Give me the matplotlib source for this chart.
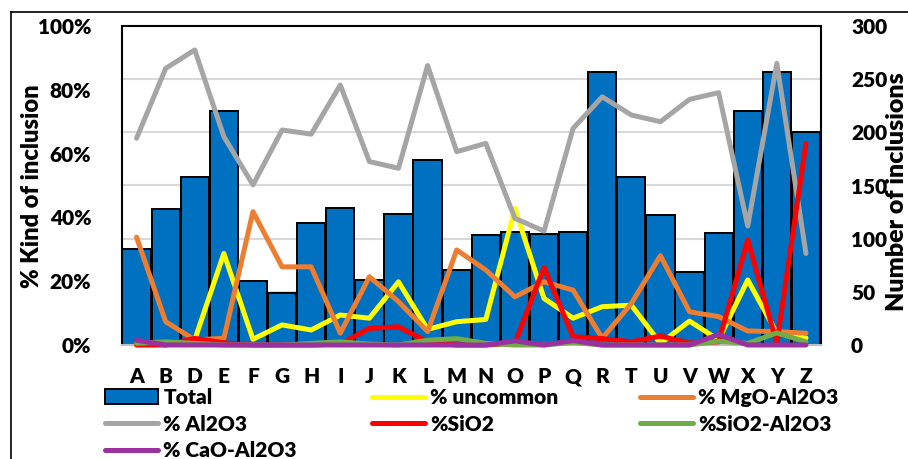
import matplotlib
matplotlib.use('Agg')
import matplotlib.pyplot as plt
from matplotlib.lines import Line2D
from matplotlib.patches import Patch
from matplotlib.ticker import FuncFormatter
import numpy as np

cats = ['A', 'B', 'D', 'E', 'F', 'G', 'H', 'I', 'J', 'K', 'L', 'M', 'N', 'O',
        'P', 'Q', 'R', 'T', 'U', 'V', 'W', 'X', 'Y', 'Z']
total = [90, 128, 158, 220, 60, 49, 115, 129, 61, 123, 174, 71, 103, 106,
         104, 106, 257, 158, 122, 69, 105, 220, 257, 200]
uncommon = [0, 0, 1.6, 28.7, 1.8, 6.3, 4.7, 9.4, 8.4, 19.8, 4.9, 7.3, 8.0, 42.8,
            14.6, 8.4, 12.0, 12.5, 0.5, 7.5, 1.6, 20.4, 3.7, 2.2]
mgo_al2o3 = [33.8, 7.3, 1.6, 2.1, 41.8, 24.5, 24.5, 3.7, 21.4, 13.6, 4.2, 29.8, 23.5,
             15.1, 19.8, 17.2, 2.1, 13.0, 28.0, 10.4, 8.9, 4.4, 4.2, 3.7]
al2o3 = [64.8, 86.7, 92.5, 65.3, 50.2, 67.4, 66.1, 81.5, 57.5, 55.4, 87.6, 60.6, 63.2,
         39.7, 35.7, 67.9, 77.8, 72.1, 70.0, 77.0, 79.1, 37.3, 88.3, 28.7]
sio2 = [0, 0, 2.1, 0.7, 0, 0, 0, 0.3, 5.2, 5.7, 1.0, 0, 0, 0.5, 24.3, 2.6, 2.0, 1.0,
        2.8, 0.6, 1.0, 32.9, 0.5, 63.2]
sio2_al2o3 = [0.5, 1.0, 0.5, 0, 0, 0, 0.5, 1.0, 0.3, 0, 1.5, 2.0, 0.5, 0, 0, 0.8, 0,
              0, 0, 0, 1.2, 0.5, 3.8, 1.0]
cao_al2o3 = [1.5, 0, 0, 0, 0, 0, 0, 0, 0, 0, 0, 0, 0, 1.3, 0, 1.4, 0, 0, 0, 0, 3.3,
             0, 0, 0]

plt.rcParams['font.family'] = ['Lato', 'DejaVu Sans']
plt.rcParams['font.weight'] = 'heavy'

W, H = 908, 459
fig = plt.figure(figsize=(W / 100, H / 100), dpi=100)


def fx(px):
    return px / W


def fy(py):
    return 1 - py / H


ax = fig.add_axes([fx(122), fy(345), fx(820.5) - fx(122), fy(26) - fy(345)])
x = np.arange(len(cats))
ax.bar(x, total, width=0.97, color='#0070C0', edgecolor='black', linewidth=1.4, zorder=2)
ax.set_ylim(0, 300)
ax.set_yticks(range(0, 301, 50))
ax.grid(axis='y', color='#D9D9D9', linewidth=1.5)
ax.set_axisbelow(True)
ax.set_xlim(-0.5, len(cats) - 0.5)
ax.set_xticks(x, cats)

ax2 = ax.twinx()
ax2.set_ylim(0, 100)
ax2.set_yticks(range(0, 101, 20))
ax2.yaxis.set_major_formatter(FuncFormatter(lambda v, p: f'{int(v)}%'))

ax.yaxis.tick_right()
ax2.yaxis.tick_left()
ax.tick_params(length=0, labelsize=15)
ax.tick_params(axis='x', pad=16)
ax.tick_params(axis='y', pad=22)
ax2.tick_params(length=0, labelsize=15, pad=22)

series = [
    (uncommon, '#FFFF00', '% uncommon'),
    (mgo_al2o3, '#ED7D31', '% MgO-Al2O3'),
    (al2o3, '#A5A5A5', '% Al2O3'),
    (sio2, '#FF0000', '%SiO2'),
    (sio2_al2o3, '#70AD47', '%SiO2-Al2O3'),
    (cao_al2o3, '#9B30A0', '% CaO-Al2O3'),
]
lw = 3.6
for vals, col, lab in series:
    ax2.plot(x, vals, color=col, linewidth=lw, solid_capstyle='round',
             solid_joinstyle='round', clip_on=False)

for a in (ax, ax2):
    for s in a.spines.values():
        s.set_visible(False)
for side in ('left', 'top', 'right'):
    ax.spines[side].set_visible(True)
    ax.spines[side].set_color('black')
    ax.spines[side].set_linewidth(1.5)
ax.spines['bottom'].set_visible(True)
ax.spines['bottom'].set_color('#BFBFBF')
ax.spines['bottom'].set_linewidth(1.5)

fig.text(fx(32), fy(186), '% Kind of inclusion', rotation=90, ha='center', va='center',
         fontsize=17)
fig.text(fx(897.5), fy(192), 'Number of inclusions', rotation=90, ha='center', va='center',
         fontsize=18)

# outer frame (cropped)
fig.add_artist(Line2D([fx(11), 1], [fy(12), fy(12)], color='black', linewidth=1.2,
                      transform=fig.transFigure))
fig.add_artist(Line2D([fx(11), fx(11)], [fy(12), 0], color='black', linewidth=1.2,
                      transform=fig.transFigure))


def lh(col):
    return Line2D([], [], color=col, linewidth=lw, solid_capstyle='round')


columns = [
    (105, [Patch(facecolor='#0070C0', edgecolor='black', linewidth=1.4), lh('#A5A5A5'),
           lh('#9B30A0')], ['Total', '% Al2O3', '% CaO-Al2O3']),
    (372, [lh('#FFFF00'), lh('#FF0000')], ['% uncommon', '%SiO2']),
    (640, [lh('#ED7D31'), lh('#70AD47')], ['% MgO-Al2O3', '%SiO2-Al2O3']),
]
for xpos, hs, ls in columns:
    fig.legend(hs, ls, loc='upper left', bbox_to_anchor=(fx(xpos), fy(388)),
               bbox_transform=fig.transFigure, frameon=False, borderpad=0,
               borderaxespad=0, fontsize=15, handlelength=2.55, handletextpad=0.25,
               labelspacing=0.37)

fig.savefig('out.png', dpi=100)
